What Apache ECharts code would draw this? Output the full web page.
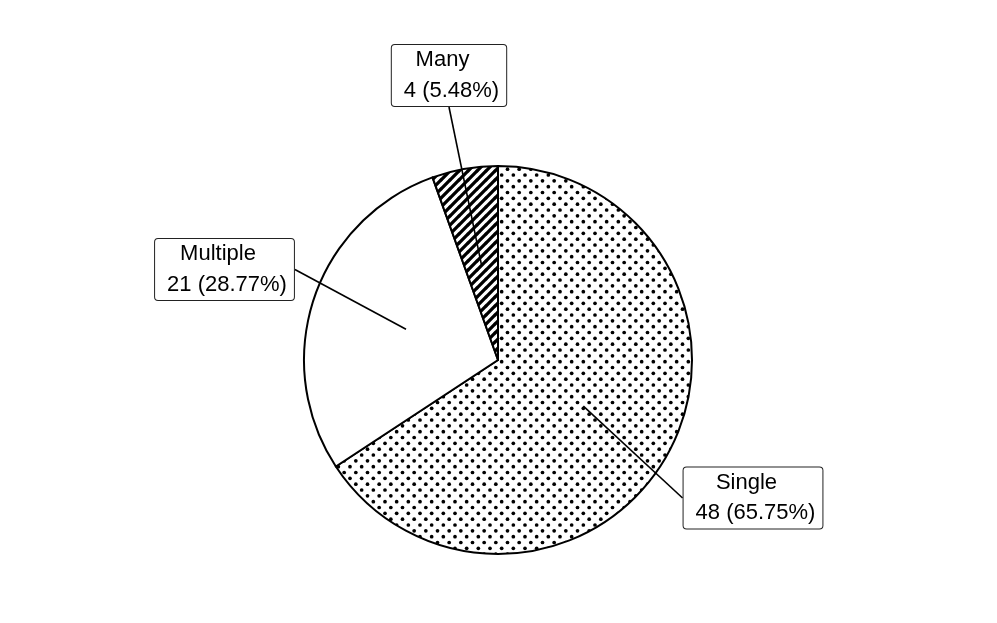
<!DOCTYPE html>
<html>
<head>
<meta charset="utf-8">
<script src="https://cdn.jsdelivr.net/npm/echarts@6/dist/echarts.min.js"></script>
<style>
html, body { margin: 0; padding: 0; background: #fff; }
#main { width: 997px; height: 623px; }
</style>
</head>
<body>
<div id="main"></div>
<script>
// data
var categories = ['Single', 'Multiple', 'Many'];
var counts = [48, 21, 4];

// label box centres (layout only)
var labelCenters = [[753, 498], [224.5, 269.5], [449, 75.5]];

function dotPattern () {
  var c = document.createElement('canvas');
  c.width = 35;
  c.height = 35;
  var ctx = c.getContext('2d');
  ctx.fillStyle = '#fff';
  ctx.fillRect(0, 0, 35, 35);
  ctx.fillStyle = '#000';
  var s = 35 / 6;
  for (var a = 0; a <= 6; a++) {
    for (var b = 0; b <= 6; b++) {
      if ((a + b) % 2 !== 0) continue;
      ctx.beginPath();
      ctx.arc(a * s, b * s, 1.85, 0, Math.PI * 2);
      ctx.fill();
    }
  }
  return c;
}

function stripePattern () {
  var n = 9;
  var c = document.createElement('canvas');
  c.width = n;
  c.height = n;
  var ctx = c.getContext('2d');
  ctx.fillStyle = '#fff';
  ctx.fillRect(0, 0, n, n);
  ctx.strokeStyle = '#000';
  ctx.lineWidth = 3.3;
  ctx.beginPath();
  ctx.moveTo(-1, 1); ctx.lineTo(1, -1);
  ctx.moveTo(0, n); ctx.lineTo(n, 0);
  ctx.moveTo(n - 1, n + 1); ctx.lineTo(n + 1, n - 1);
  ctx.stroke();
  return c;
}

var fills = [
  { image: dotPattern(), repeat: 'repeat' },
  '#ffffff',
  { image: stripePattern(), repeat: 'repeat' }
];

var slices = categories.map(function (name, i) {
  return { name: name, value: counts[i], itemStyle: { color: fills[i] } };
});
var anchors = categories.map(function (name, i) {
  return { name: name, value: counts[i] };
});

var myChart = echarts.init(document.getElementById('main'));
myChart.setOption({
  animation: false,
  backgroundColor: '#fff',
  series: [{
    name: 'pie',
    type: 'pie',
    z: 2,
    center: [498, 360],
    radius: 194,
    startAngle: 90,
    clockwise: true,
    silent: true,
    label: { show: false },
    labelLine: { show: false },
    itemStyle: { borderColor: '#000', borderWidth: 2 },
    emphasis: { disabled: true },
    data: slices
  }, {
    // invisible half-radius pie, only carries the boxed labels and their leader lines
    name: 'labels',
    type: 'pie',
    z: 5,
    center: [498, 360],
    radius: 97,
    startAngle: 90,
    clockwise: true,
    silent: true,
    avoidLabelOverlap: false,
    itemStyle: { color: 'rgba(0,0,0,0)', borderWidth: 0 },
    emphasis: { disabled: true },
    label: {
      show: true,
      position: 'outside',
      formatter: function (p) {
        return '{a|' + p.name + '}\n{b|' + p.value + ' (' + p.percent.toFixed(2) + '%)}';
      },
      backgroundColor: '#fff',
      borderColor: '#222',
      borderWidth: 1,
      borderRadius: 3,
      padding: [0, 7, 0, 12],
      rich: {
        a: {
          fontFamily: 'Liberation Sans',
          fontSize: 22,
          color: '#000',
          lineHeight: 30.5,
          padding: [0, 18, 0, 0]
        },
        b: {
          fontFamily: 'Liberation Sans',
          fontSize: 22,
          color: '#000',
          lineHeight: 30.5
        }
      }
    },
    labelLine: {
      show: true,
      length: 10,
      length2: 0,
      lineStyle: { color: '#000', width: 1.6 }
    },
    labelLayout: function (params) {
      var c = labelCenters[params.dataIndex];
      return { x: c[0], y: c[1], align: 'center', verticalAlign: 'middle' };
    },
    data: anchors
  }]
});
</script>
</body>
</html>
